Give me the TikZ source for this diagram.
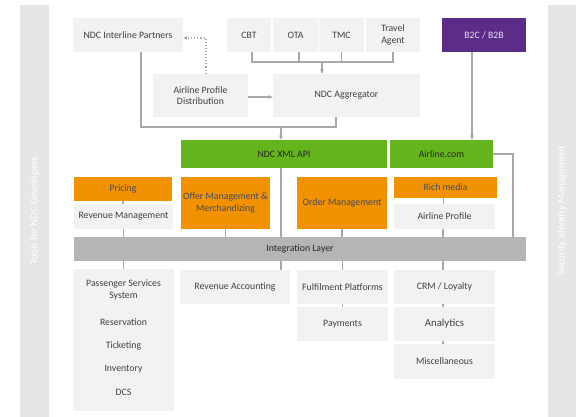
\documentclass[tikz,border=0pt]{standalone}
\usepackage{fontspec}
\setmainfont{Carlito}
\usetikzlibrary{arrows.meta,calc}
\definecolor{boxgray}{HTML}{F2F2F2}
\definecolor{sidegray}{HTML}{E6E6E6}
\definecolor{intgray}{HTML}{B5B5B5}
\definecolor{ndcgreen}{HTML}{64B41E}
\definecolor{ndcorange}{HTML}{F39200}
\definecolor{ndcpurple}{HTML}{5C2D88}
\definecolor{txtgray}{HTML}{404040}
\definecolor{txtblue}{HTML}{3E4A68}
\definecolor{linegray}{HTML}{A8A8A8}
\tikzset{
  base/.style={rectangle, inner sep=2pt, align=center, font=\fontsize{9.8}{11.5}\selectfont},
  gbox/.style={base, fill=boxgray, text=txtgray},
  obox/.style={base, fill=ndcorange, text=txtblue},
  grbox/.style={base, fill=ndcgreen, text=black!85},
  pbox/.style={base, fill=ndcpurple, text=white!85!ndcpurple},
  ibox/.style={base, fill=intgray, text=black!85},
  side/.style={rectangle, fill=sidegray},
  sidetext/.style={font=\fontsize{10.5}{12}\selectfont, text=white, rotate=90},
  conn/.style={draw=linegray, line width=1.1pt},
  arr/.style={conn, -{Stealth[length=4.5pt,width=4pt]}},
}
\begin{document}
\begin{tikzpicture}[x=1pt,y=-1pt]
\useasboundingbox (0,0) rectangle (576,417);
% sidebars
\node[side, minimum width=29pt, minimum height=412pt] (lside) at (34.5,211) {};
\node[side, minimum width=28pt, minimum height=412pt] (rside) at (562,211) {};
\node[sidetext] (ltext) at (lside.center) {Tools for NDC Developers};
\node[sidetext] (rtext) at (rside.center) {Security Identity Management};
% top row
\node[gbox, minimum width=110pt, minimum height=34pt] (inter) at (128,35) {NDC Interline Partners};
\node[gbox, minimum width=44pt, minimum height=34pt] (cbt) at (249,35) {CBT};
\node[gbox, minimum width=45pt, minimum height=34pt] (ota) at (295.5,35) {OTA};
\node[gbox, minimum width=45pt, minimum height=34pt] (tmc) at (341.5,35) {TMC};
\node[gbox, minimum width=54pt, minimum height=34pt] (ta) at (393,35) {Travel\\Agent};
\node[pbox, minimum width=84pt, minimum height=34pt] (b2c) at (484,35) {B2C / B2B};
% second row
\node[gbox, minimum width=95pt, minimum height=43pt] (apd) at (200.5,95.5) {Airline Profile\\Distribution};
\node[gbox, minimum width=147pt, minimum height=43pt] (agg) at (346.5,95.5) {NDC Aggregator};
% api row
\node[grbox, minimum width=206pt, minimum height=28pt] (api) at (284,154) {NDC XML API};
\node[grbox, minimum width=103pt, minimum height=28pt] (acom) at (441.5,154) {Airline.com};
% services
\node[obox, minimum width=98pt, minimum height=24pt] (pricing) at (123,189) {Pricing};
\node[gbox, minimum width=99pt, minimum height=25pt] (revm) at (123.5,216.5) {Revenue Management};
\node[obox, minimum width=89pt, minimum height=52pt] (offer) at (225.5,203) {Offer Management \&\\Merchandizing};
\node[obox, minimum width=90pt, minimum height=52pt] (order) at (342,203) {Order Management};
\node[obox, minimum width=103pt, minimum height=21pt] (rich) at (445.5,187.5) {Rich media};
\node[gbox, minimum width=101pt, minimum height=25pt] (aprof) at (444.5,216.5) {Airline Profile};
% integration
\node[ibox, minimum width=452pt, minimum height=24pt] (integ) at (300,249) {Integration Layer};
% bottom
\node[gbox, minimum width=101pt, minimum height=142pt] (pss) at (123.5,340) {};
\node[base, text=txtgray] (psst) at (123.5,290) {Passenger Services\\System};
\node[base, text=txtgray] (res) at (123.5,322) {Reservation};
\node[base, text=txtgray] (tick) at (123.5,345.5) {Ticketing};
\node[base, text=txtgray] (inv) at (123.5,369) {Inventory};
\node[base, text=txtgray] (dcs) at (123.5,392) {DCS};
\node[gbox, minimum width=110pt, minimum height=34pt] (reva) at (235,287) {Revenue Accounting};
\node[gbox, minimum width=91pt, minimum height=34pt] (fulf) at (342.5,287) {Fulfilment Platforms};
\node[gbox, minimum width=91pt, minimum height=34pt] (pay) at (342.5,324) {Payments};
\node[gbox, minimum width=101pt, minimum height=34pt] (crm) at (444.5,287) {CRM / Loyalty};
\node[gbox, minimum width=101pt, minimum height=34pt, font=\fontsize{10.8}{12}\selectfont] (anal) at (444.5,324) {Analytics};
\node[gbox, minimum width=101pt, minimum height=35pt] (misc) at (444.5,361.5) {Miscellaneous};
% junctions
\coordinate (j1) at (322,62);
\coordinate (j2) at (281,127);
% connectors top
\draw[conn] ([xshift=3pt]cbt.south) |- (j1) -| (ta.south);
\draw[conn] ([xshift=3.5pt]ota.south) -- ([xshift=3.5pt]ota.south |- j1);
\draw[conn] (tmc.south) -- (tmc.south |- j1);
\draw[arr] (j1) -- (j1 |- agg.north);
\draw[arr, dotted] ([xshift=5.5pt]apd.north) |- ([yshift=-3pt]inter.east);
\draw[arr] ([yshift=-1.5pt]apd.east) -- ([yshift=-1.5pt]agg.west);
\draw[conn] ([xshift=13pt]inter.south) |- (j2) -| ([xshift=-10.5pt]agg.south);
\draw[arr] (j2) -- (j2 |- api.north);
\draw[arr] ([xshift=-12pt]b2c.south) -- ([xshift=-12pt]b2c.south |- acom.north);
\draw[conn] (acom.east) -| ([xshift=213pt]integ.north);
% to integration
\draw[conn] (pricing.south) -- (pricing.south |- revm.north);
\draw[conn] (revm.south) -- (revm.south |- integ.north);
\draw[conn] (offer.south) -- (offer.south |- integ.north);
\draw[conn] (j2 |- api.south) -- (j2 |- integ.north);
\draw[conn] (order.south) -- (order.south |- integ.north);
\draw[conn] ([xshift=-2pt]rich.south) -- ([xshift=-2pt]rich.south |- aprof.north);
\draw[conn] ([xshift=-1.5pt]aprof.south) -- ([xshift=-1.5pt]aprof.south |- integ.north);
% below integration
\draw[conn] (pss.north |- integ.south) -- (pss.north);
\draw[conn] (j2 |- integ.south) -- (j2 |- reva.north);
\draw[conn] (fulf.north |- integ.south) -- (fulf.north);
\draw[conn] (fulf.south) -- (pay.north);
\draw[conn] ([xshift=-1.5pt]crm.north |- integ.south) -- ([xshift=-1.5pt]crm.north);
\draw[conn] ([xshift=-1.5pt]crm.south) -- ([xshift=-1.5pt]anal.north);
\draw[conn] ([xshift=-1.5pt]anal.south) -- ([xshift=-1.5pt]misc.north);
\end{tikzpicture}
\end{document}
